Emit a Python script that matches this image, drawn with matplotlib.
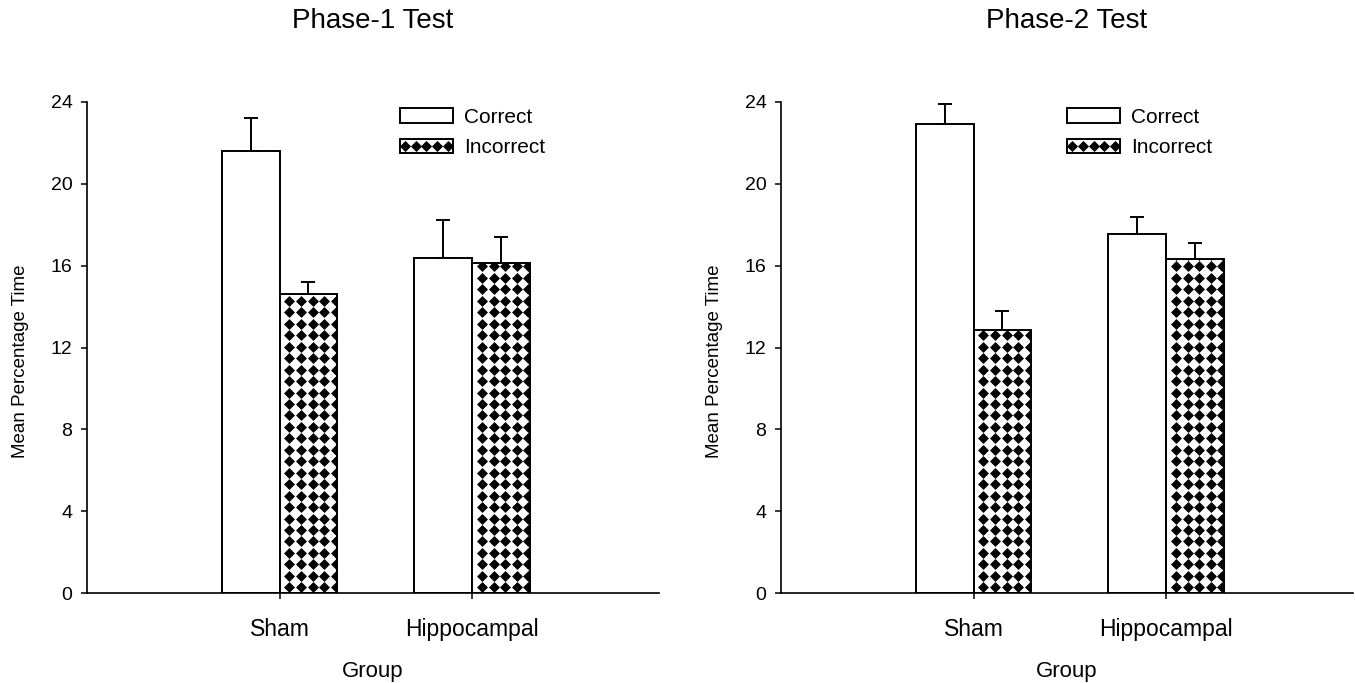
import numpy as np
import matplotlib
matplotlib.use("Agg")
import matplotlib.pyplot as plt
from matplotlib.patches import Rectangle, Patch
from matplotlib.lines import Line2D
from matplotlib.legend_handler import HandlerBase
from matplotlib.path import Path

plt.rcParams['font.family'] = ['Liberation Sans', 'DejaVu Sans']

# ---------------- data ----------------
groups = ["Sham", "Hippocampal"]
titles = ["Phase-1 Test", "Phase-2 Test"]
series = ["Correct", "Incorrect"]

p1_correct = [21.62, 16.39]
p1_correct_err = [1.58, 1.84]
p1_incorrect = [14.62, 16.15]
p1_incorrect_err = [0.60, 1.27]

p2_correct = [22.91, 17.55]
p2_correct_err = [1.00, 0.84]
p2_incorrect = [12.86, 16.33]
p2_incorrect_err = [0.92, 0.76]

yticks = [0, 4, 8, 12, 16, 20, 24]

# ---------------- styling ----------------
W, H = 1355, 683
fig = plt.figure(figsize=(W / 100, H / 100), dpi=100)

DIAMOND = Path([(0, 1), (1, 0), (0, -1), (-1, 0), (0, 1)],
               [Path.MOVETO, Path.LINETO, Path.LINETO, Path.LINETO, Path.CLOSEPOLY])

bar_w = 0.3
edge_lw = 1.4
dx = 0.06     # pattern spacing (x data units)
dy = 0.56     # pattern spacing (y data units)


class HandlerDiamond(HandlerBase):
    def create_artists(self, legend, orig_handle, xdescent, ydescent,
                       width, height, fontsize, trans):
        rect = Rectangle((-xdescent, -ydescent), width, height,
                         facecolor='white', edgecolor='black', lw=edge_lw,
                         transform=trans)
        n = 5
        xs = -xdescent + width * (np.arange(n) + 0.5) / n
        ys = np.full(n, -ydescent + height / 2)
        ln = Line2D(xs, ys, marker=DIAMOND, markersize=8, linestyle='none',
                    color='black', markeredgewidth=0, transform=trans)
        return [rect, ln]


def panel(ax, title, corr, corr_err, inc, inc_err, leg_x):
    x = np.arange(1, len(groups) + 1)
    xc = x - bar_w / 2
    xi = x + bar_w / 2
    ax.bar(xc, corr, width=bar_w, facecolor='white', edgecolor='black',
           linewidth=edge_lw, zorder=2)
    inc_bars = ax.bar(xi, inc, width=bar_w, facecolor='white', edgecolor='none',
                      linewidth=0, zorder=2)
    # diamond pattern inside incorrect bars
    for rect in inc_bars:
        l = rect.get_x()
        r = l + rect.get_width()
        t = rect.get_height()
        gx = l + dx * (np.arange(0, int(np.ceil((r - l) / dx)) + 1) + 0.85)
        gy = dy * (np.arange(0, int(np.ceil(t / dy)) + 1) + 0.5)
        GX, GY = np.meshgrid(gx, gy)
        sc = ax.scatter(GX.ravel(), GY.ravel(), marker=DIAMOND, s=62,
                        color='black', linewidths=0, zorder=3)
        sc.set_clip_path(rect)
    ax.bar(xi, inc, width=bar_w, fill=False, edgecolor='black',
           linewidth=edge_lw, zorder=4)
    # upward error bars
    ax.errorbar(xc, corr, yerr=[np.zeros(len(corr)), corr_err], fmt='none',
                ecolor='black', elinewidth=1.4, capsize=5.2, capthick=1.4, zorder=5)
    ax.errorbar(xi, inc, yerr=[np.zeros(len(inc)), inc_err], fmt='none',
                ecolor='black', elinewidth=1.4, capsize=5.2, capthick=1.4, zorder=5)

    ax.set_xlim(0, 2.97)
    ax.set_ylim(0, 24)
    ax.set_yticks(yticks)
    ax.set_yticklabels([str(v) for v in yticks], fontsize=14)
    ax.set_xticks(x)
    ax.set_xticklabels(groups, fontsize=16.5)
    for s in ['top', 'right']:
        ax.spines[s].set_visible(False)
    for s in ['left', 'bottom']:
        ax.spines[s].set_linewidth(1.2)
    ax.tick_params(axis='y', direction='out', length=4.5, width=1.1, pad=6)
    ax.tick_params(axis='x', direction='out', length=4.5, width=1.1, pad=13.5)
    ax.set_ylabel("Mean Percentage Time", fontsize=13.5)
    ax.yaxis.set_label_coords(-0.101, 0.472)
    ax.set_xlabel("Group", fontsize=16)
    ax.xaxis.set_label_coords(0.5, -0.138)
    ax.set_title(title, fontsize=20, y=1.1507, pad=0)

    h1 = Patch(facecolor='white', edgecolor='black', linewidth=edge_lw)
    h2 = Patch(facecolor='white', edgecolor='black', linewidth=edge_lw)
    ax.legend([h1, h2], series, handler_map={h2: HandlerDiamond()},
              loc='upper left', bbox_to_anchor=(leg_x, 0.988), frameon=False,
              fontsize=15, borderpad=0, borderaxespad=0,
              handlelength=2.55, handleheight=0.72, handletextpad=0.52,
              labelspacing=0.55)


ax1 = fig.add_axes([87 / W, 90 / H, 572 / W, 491 / H])
ax2 = fig.add_axes([781 / W, 90 / H, 572 / W, 491 / H])
panel(ax1, titles[0], p1_correct, p1_correct_err, p1_incorrect, p1_incorrect_err, 0.547)
panel(ax2, titles[1], p2_correct, p2_correct_err, p2_incorrect, p2_incorrect_err, 0.500)

fig.savefig("out.png", dpi=100)
